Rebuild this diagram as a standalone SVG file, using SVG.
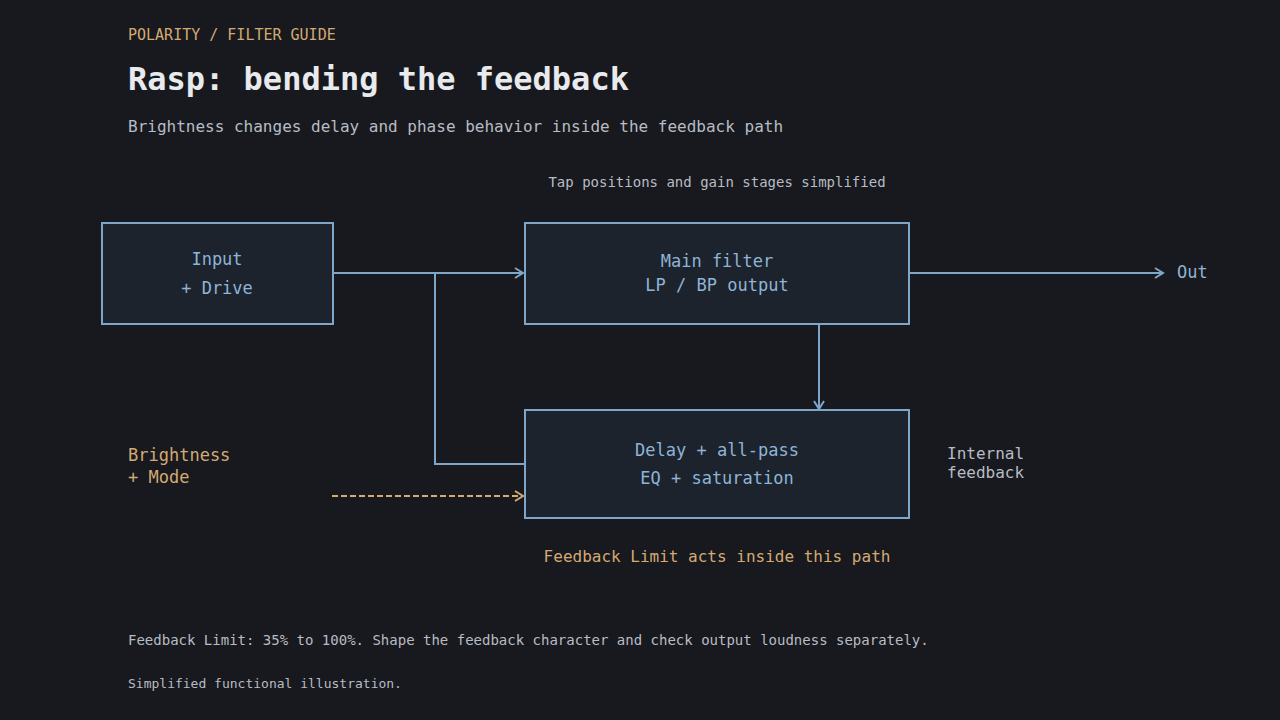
<svg xmlns="http://www.w3.org/2000/svg" width="1280" height="720" viewBox="0 0 1280 720">
<style>
text{font-family:"DejaVu Sans Mono","Liberation Mono",monospace}
.box{fill:#1c232d;stroke:#7ea6c8;stroke-width:2}
.bl{fill:#8fb4d6;font-size:17px;text-anchor:middle}
.ln{fill:none;stroke:#7ea6c8;stroke-width:2}
</style>
<defs>
<marker id="ab" markerWidth="12" markerHeight="12" refX="10" refY="6" orient="auto" markerUnits="userSpaceOnUse"><path d="M2,1 L10,6 L2,11" fill="none" stroke="#7ea6c8" stroke-width="2"/></marker>
<marker id="ao" markerWidth="12" markerHeight="12" refX="10" refY="6" orient="auto" markerUnits="userSpaceOnUse"><path d="M2,1 L10,6 L2,11" fill="none" stroke="#d4aa72" stroke-width="2"/></marker>
</defs>
<rect width="1280" height="720" fill="#17191e"/>
<text x="128" y="40" fill="#d4aa72" font-size="15">POLARITY / FILTER GUIDE</text>
<text x="128" y="90" fill="#e8eaed" font-size="32" font-weight="bold">Rasp: bending the feedback</text>
<text x="128" y="132" fill="#b8bcc4" font-size="16">Brightness changes delay and phase behavior inside the feedback path</text>
<text x="717" y="187" fill="#b8bcc4" font-size="14" text-anchor="middle">Tap positions and gain stages simplified</text>
<g id="connectors">
<path class="ln" d="M333,273 H523" marker-end="url(#ab)"/>
<path class="ln" d="M524,464 H435 V273"/>
<path class="ln" d="M909,273 H1163" marker-end="url(#ab)"/>
<path class="ln" d="M819,324 V409" marker-end="url(#ab)"/>
<path d="M332,496 H523" fill="none" stroke="#d4aa72" stroke-width="2" stroke-dasharray="6,3" marker-end="url(#ao)"/>
</g>
<g id="input"><rect class="box" x="102" y="223" width="231" height="101"/>
<text class="bl" x="217" y="265">Input</text><text class="bl" x="217" y="294">+ Drive</text></g>
<g id="mainfilter"><rect class="box" x="525" y="223" width="384" height="101"/>
<text class="bl" x="717" y="267">Main filter</text><text class="bl" x="717" y="291">LP / BP output</text></g>
<g id="delay"><rect class="box" x="525" y="410" width="384" height="108"/>
<text class="bl" x="717" y="456">Delay + all-pass</text><text class="bl" x="717" y="484">EQ + saturation</text></g>
<g id="out"><text x="1177" y="278" fill="#8fb4d6" font-size="17">Out</text></g>
<g id="brightness"><text x="128" y="461" fill="#d4aa72" font-size="17">Brightness</text><text x="128" y="483" fill="#d4aa72" font-size="17">+ Mode</text></g>
<text x="947" y="459" fill="#b8bcc4" font-size="16">Internal</text>
<text x="947" y="478" fill="#b8bcc4" font-size="16">feedback</text>
<text x="717" y="562" fill="#d4aa72" font-size="16" text-anchor="middle">Feedback Limit acts inside this path</text>
<text x="128" y="645" fill="#b8bcc4" font-size="14">Feedback Limit: 35% to 100%. Shape the feedback character and check output loudness separately.</text>
<text x="128" y="688" fill="#b8bcc4" font-size="13">Simplified functional illustration.</text>
</svg>
